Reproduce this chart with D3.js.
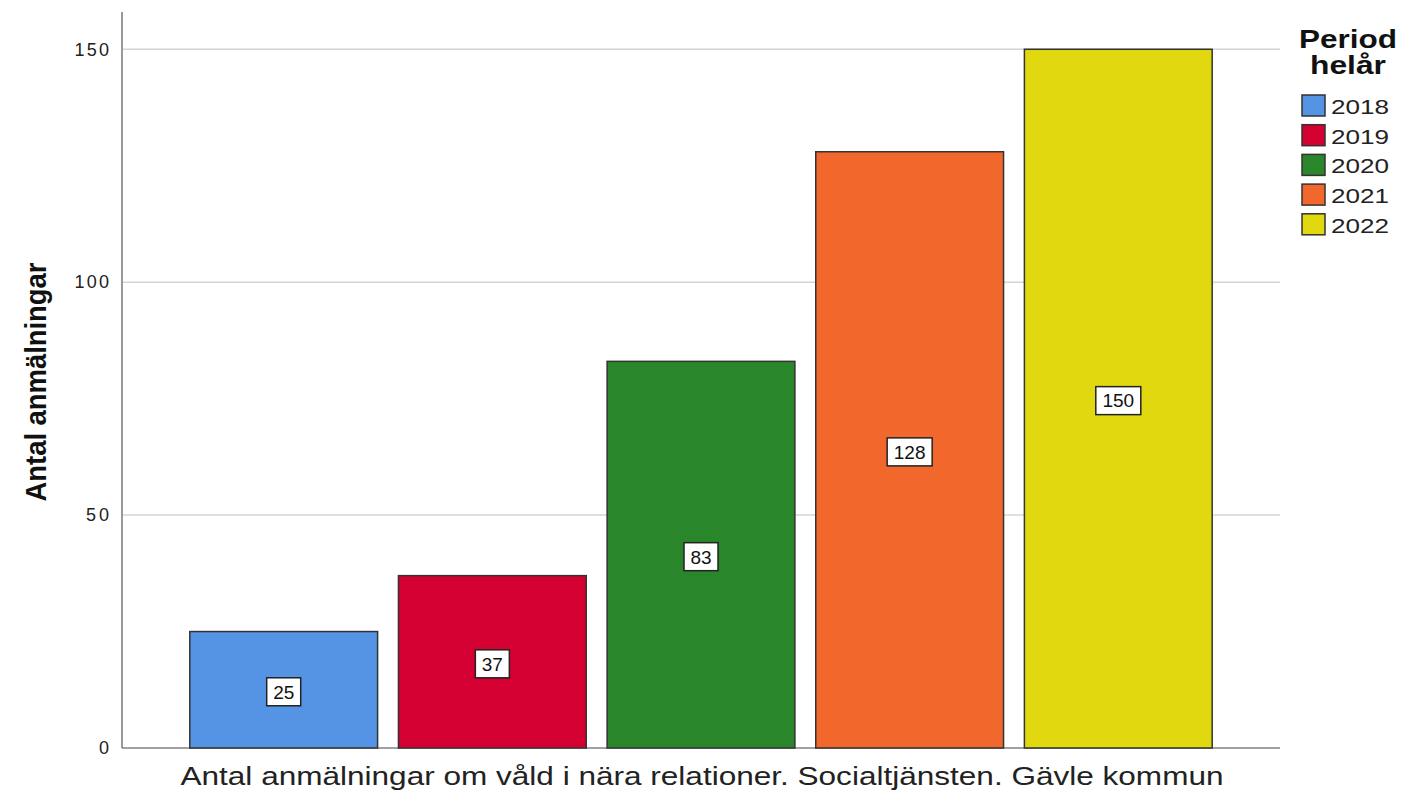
<!DOCTYPE html>
<html><head><meta charset="utf-8">
<script src="https://cdn.jsdelivr.net/npm/d3@7"></script>
<style>body{margin:0;background:#fff}svg{display:block}</style>
</head><body>
<svg id="c" width="1404" height="790"></svg>
<script>
const categories = ["Antal anmälningar om våld i nära relationer. Socialtjänsten. Gävle kommun"];
const years = ["2018", "2019", "2020", "2021", "2022"];
const values = [25, 37, 83, 128, 150];
const colors = ["#5594e4", "#d50032", "#2a862a", "#f2672b", "#e2d80f"];
const yTicks = [0, 50, 100, 150];
const yTitle = "Antal anmälningar";
const legendTitle = ["Period", "helår"];

const svg = d3.select("#c");
const L = 122, R = 1280, T = 12, B = 748;
const y = d3.scaleLinear().domain([0, 158]).range([B, T]);
const x0 = d3.scaleBand().domain(categories).range([L, R]).paddingInner(0).paddingOuter(0.055);
const x1 = d3.scaleBand().domain(years).range([0, x0.bandwidth()]).paddingInner(0.1).paddingOuter(0.05);
const font = "Arial, 'Liberation Sans', sans-serif";

// gridlines
svg.append("g").selectAll("line").data(yTicks.filter(d => d > 0)).join("line")
  .attr("x1", L).attr("x2", R).attr("y1", d => y(d)).attr("y2", d => y(d))
  .attr("stroke", "#d4d4d4").attr("stroke-width", 1.5);

// y axis
const ya = svg.append("g").attr("transform", `translate(${L},0)`)
  .call(d3.axisLeft(y).tickValues(yTicks).tickSize(0).tickPadding(13));
ya.select(".domain").remove();
ya.attr("font-size", null).attr("font-family", null);
ya.selectAll("text")
  .style("font-family", font).style("font-size", "18px").style("fill", "#222")
  .attr("textLength", d => String(d).length * 11.5).attr("lengthAdjust", "spacing");
svg.append("line").attr("x1", L).attr("x2", L).attr("y1", T).attr("y2", B)
  .attr("stroke", "#999").attr("stroke-width", 2);
svg.append("line").attr("x1", L).attr("x2", R).attr("y1", B).attr("y2", B)
  .attr("stroke", "#444").attr("stroke-width", 1.2);

// bars
const g = svg.append("g").attr("transform", `translate(${x0(categories[0])},0)`);
const data = years.map((yr, i) => ({yr, v: values[i], c: colors[i]}));
g.selectAll("rect.bar").data(data).join("rect").attr("class", "bar")
  .attr("x", d => x1(d.yr)).attr("width", x1.bandwidth())
  .attr("y", d => y(d.v)).attr("height", d => B - y(d.v))
  .attr("fill", d => d.c).attr("stroke", "#333").attr("stroke-width", 1.5);

// value labels
const lab = g.selectAll("g.lab").data(data).join("g").attr("class", "lab")
  .attr("transform", d => `translate(${x1(d.yr) + x1.bandwidth() / 2},${(y(d.v) + B) / 2 + 2})`);
lab.append("rect")
  .attr("x", d => -(String(d.v).length * 11 + 12) / 2).attr("y", -14)
  .attr("width", d => String(d.v).length * 11 + 12).attr("height", 28)
  .attr("fill", "#fff").attr("stroke", "#222").attr("stroke-width", 1.5);
lab.append("text").text(d => d.v).attr("text-anchor", "middle").attr("dy", "0.36em")
  .attr("font-family", font).attr("font-size", 19).attr("fill", "#111");

// x title
svg.append("text").attr("x", (L + R) / 2 + 1).attr("y", 785).attr("text-anchor", "middle")
  .attr("font-family", font).attr("font-size", 25).attr("fill", "#222")
  .attr("textLength", 1043).attr("lengthAdjust", "spacingAndGlyphs").text(categories[0]);

// y title
svg.append("text").attr("transform", "translate(46,382) rotate(-90)").attr("text-anchor", "middle")
  .attr("font-family", font).attr("font-size", 30).attr("font-weight", "bold").attr("fill", "#111")
  .attr("textLength", 239).attr("lengthAdjust", "spacingAndGlyphs").text(yTitle);

// legend
const lg = svg.append("g");
lg.selectAll("text.t").data(legendTitle).join("text").attr("class", "t")
  .attr("x", 1348).attr("y", (d, i) => 48 + i * 26).attr("text-anchor", "middle")
  .attr("font-family", font).attr("font-size", 25).attr("font-weight", "bold").attr("fill", "#111")
  .attr("textLength", (d, i) => i === 0 ? 98 : 76).attr("lengthAdjust", "spacingAndGlyphs")
  .text(d => d);
const li = lg.selectAll("g.it").data(data).join("g").attr("class", "it")
  .attr("transform", (d, i) => `translate(1302,${95 + i * 29.7})`);
li.append("rect").attr("width", 23).attr("height", 21).attr("fill", d => d.c)
  .attr("stroke", "#333").attr("stroke-width", 1.5);
li.append("text").attr("x", 29).attr("y", 19)
  .attr("font-family", font).attr("font-size", 21).attr("fill", "#222")
  .attr("textLength", 58).attr("lengthAdjust", "spacingAndGlyphs").text(d => d.yr);
</script>
</body></html>
